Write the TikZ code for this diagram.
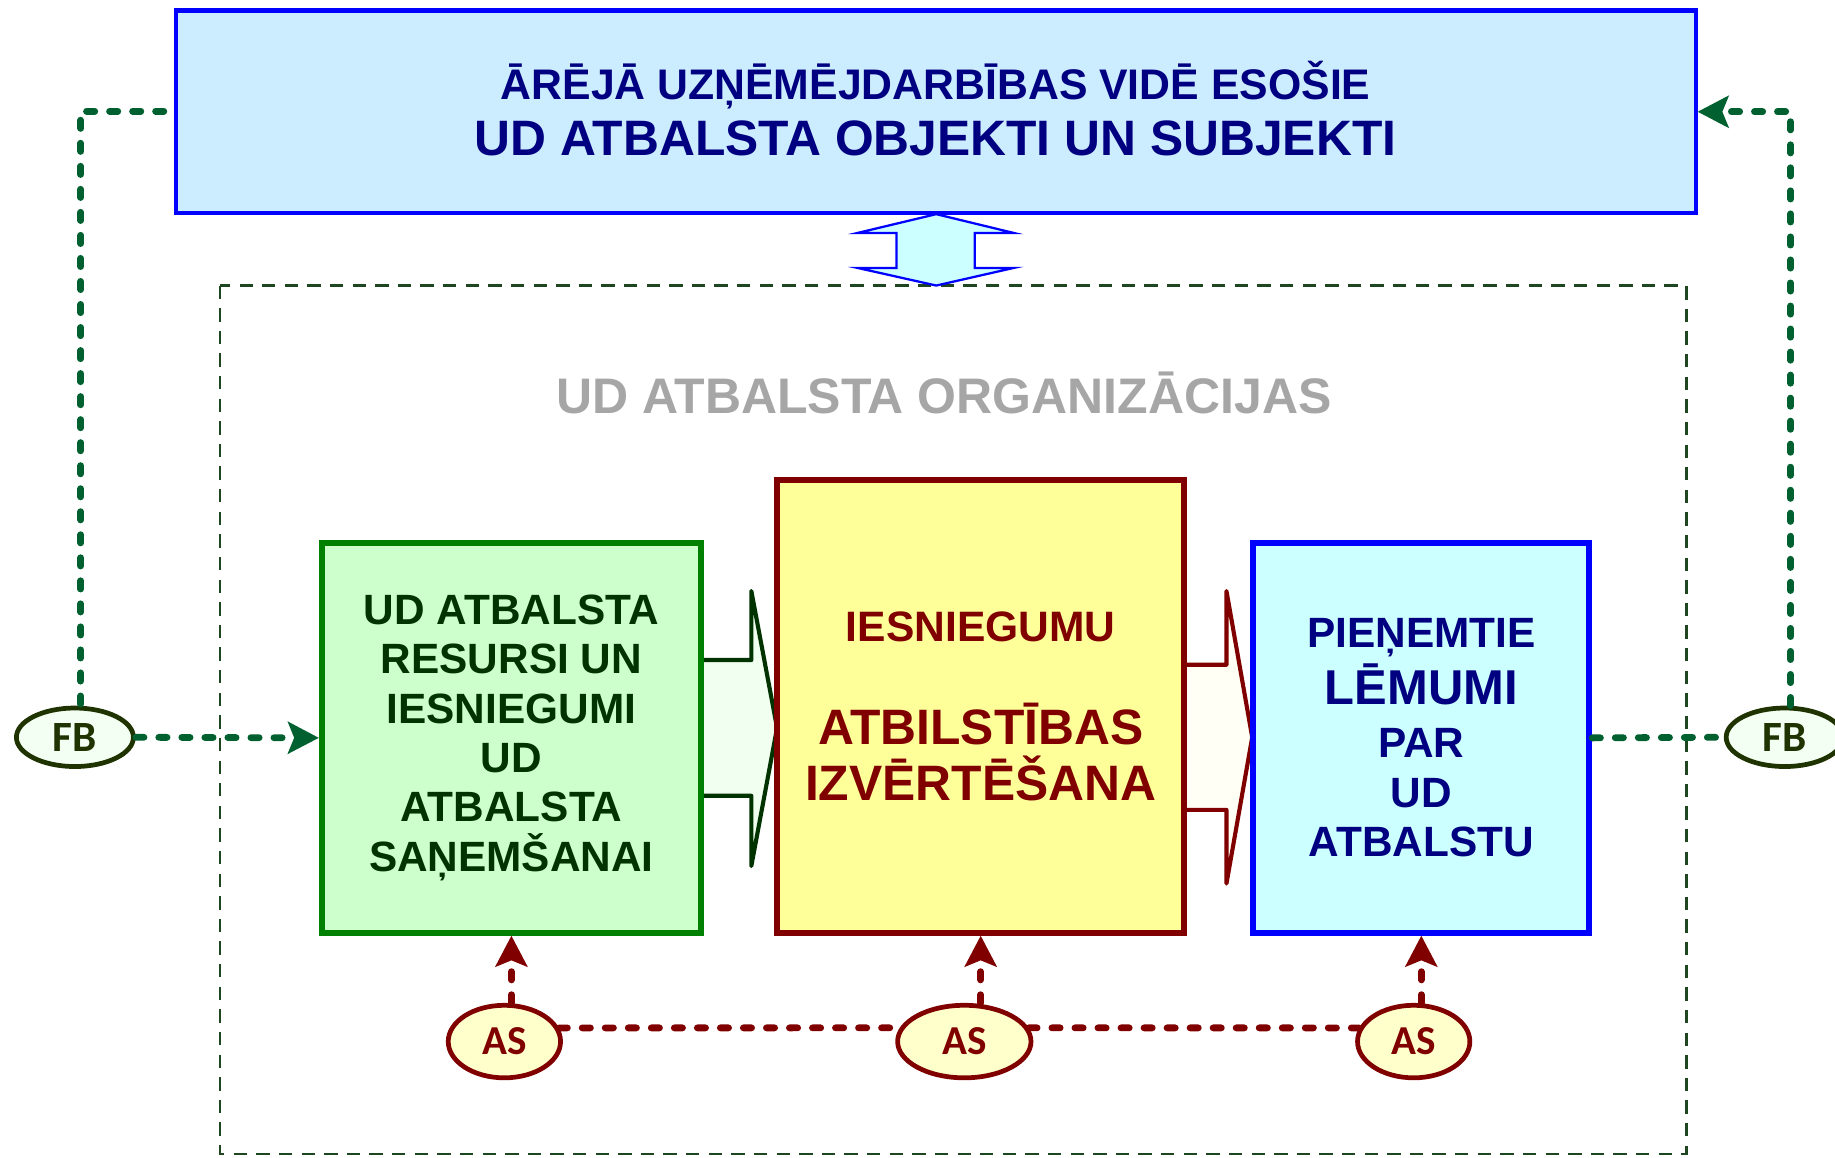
\documentclass[tikz,border=0pt]{standalone}
\usepackage{fontspec}
\setmainfont{Liberation Sans}
\newfontfamily\ellfont{Carlito}
\usetikzlibrary{arrows.meta, shapes.geometric}

\definecolor{topfill}{HTML}{CCECFF}
\definecolor{navy}{HTML}{000080}
\definecolor{boxblue}{HTML}{0000FF}
\definecolor{resfill}{HTML}{CCFFCC}
\definecolor{resgreen}{HTML}{008000}
\definecolor{restext}{HTML}{003300}
\definecolor{evalfill}{HTML}{FFFF99}
\definecolor{darkred}{HTML}{800000}
\definecolor{decfill}{HTML}{CCFFFF}
\definecolor{fbgreen}{HTML}{006030}
\definecolor{fbdark}{HTML}{1F3300}
\definecolor{fbfill}{HTML}{F2FFF2}
\definecolor{asfill}{HTML}{FFFFCC}
\definecolor{orggray}{HTML}{A6A6A6}
\definecolor{framegreen}{HTML}{1E4620}
\definecolor{arrowgreen}{HTML}{F0FFF0}
\definecolor{arrowivory}{HTML}{FFFFF5}

\tikzset{
  block/.style={rectangle, line width=2.9pt, inner sep=0pt, align=center},
  fbnode/.style={ellipse, draw=fbdark, fill=fbfill, line width=2.3pt, minimum width=2cm, minimum height=1cm, inner sep=0pt, text=fbdark, font=\ellfont\bfseries\fontsize{21}{21}\selectfont},
  asnode/.style={ellipse, draw=darkred, fill=asfill, line width=2.3pt, minimum width=1.92cm, minimum height=1.24cm, inner sep=0pt, text=darkred, font=\ellfont\bfseries\fontsize{20}{20}\selectfont},
  fbline/.style={draw=fbgreen, line width=3.3pt, line cap=round, dash pattern=on 4pt off 7.2pt},
  asline/.style={draw=darkred, line width=3.3pt, line cap=round, dash pattern=on 4pt off 7.2pt},
  headtip/.style={-{Stealth[length=15pt, width=15.4pt, inset=3pt]}},
}

\begin{document}
\begin{tikzpicture}[x=0.02cm, y=-0.02cm]
\useasboundingbox (0,0) rectangle (1568,988.7);
% organisations frame
\draw[framegreen, line width=1.1pt, dash pattern=on 6.5pt off 4.5pt] (188,244) rectangle (1441,986);
\node[text=orggray, font=\bfseries\fontsize{24.3}{24}\selectfont] (org) at (806.5,336) {UD ATBALSTA ORGANIZĀCIJAS};

% outer environment
\node[block, draw=boxblue, line width=2pt, fill=topfill, minimum width=25.98cm, minimum height=3.46cm, text depth=3.5pt, text=navy, font=\bfseries\fontsize{20.8}{27.5}\selectfont] (outer) at (799.5,95.5) {ĀRĒJĀ UZŅĒMĒJDARBĪBAS VIDĒ ESOŠIE\\{\fontsize{24.2}{27.5}\selectfont UD ATBALSTA OBJEKTI UN SUBJEKTI}};
\draw[boxblue, line width=1.1pt, fill=decfill] (800,183) -- (866,199) -- (833,199) -- (833,229) -- (866,229) -- (800,244) -- (733,229) -- (766,229) -- (766,199) -- (733,199) -- cycle;

% block arrows
\draw[restext, fill=arrowgreen, line width=2pt, line join=round] (599,564) -- (642,564) -- (642,505) -- (664,622) -- (642,740) -- (642,680) -- (599,680);
\draw[darkred, fill=arrowivory, line width=2pt, line join=round] (1012,568) -- (1048,568) -- (1048,505) -- (1070,630) -- (1048,755) -- (1048,692) -- (1012,692);

% main boxes
\node[block, draw=resgreen, fill=resfill, minimum width=6.48cm, minimum height=6.66cm, text=restext, font=\bfseries\fontsize{20.6}{24}\selectfont] (green) at (437,630.5) {UD ATBALSTA\\RESURSI UN\\IESNIEGUMI\\UD\\ATBALSTA\\SAŅEMŠANAI};
\node[block, draw=darkred, fill=evalfill, minimum width=6.96cm, minimum height=7.74cm, text=darkred, font=\bfseries\fontsize{24.2}{27.3}\selectfont] (yellow) at (838,603.5) {{\fontsize{20.7}{27.3}\selectfont IESNIEGUMU}\\[22.7pt]ATBILSTĪBAS\\IZVĒRTĒŠANA};
\node[block, draw=boxblue, fill=decfill, minimum width=5.74cm, minimum height=6.66cm, text=navy, font=\bfseries\fontsize{20.6}{24}\selectfont] (blue) at (1214.5,630.5) {PIEŅEMTIE\\[2.2pt]{\fontsize{23.8}{24}\selectfont LĒMUMI}\\[1.6pt]PAR\\[0.5pt]UD\\ATBALSTU};

% feedback
\node[fbnode] (fbl) at (64,630) {FB};
\node[fbnode] (fbr) at (1525,630) {FB};
\coordinate (fbtop) at (140,95);
\draw[fbline] (fbtop) -| ([xshift=0.1cm]fbl.north);
\draw[fbline, headtip] (fbl.east) -- (green.west);
\draw[fbline] (blue.east) -- (fbr.west);
\draw[fbline, headtip] ([xshift=0.1cm]fbr.north) |- (outer.east);

% support
\node[asnode] (as1) at (431,890) {AS};
\node[asnode, minimum width=2.28cm] (as2) at (824,890) {AS};
\node[asnode] (as3) at (1208,890) {AS};
\draw[asline] (as1.14) -- (as2.168);
\draw[asline] (as2.12) -- (as3.166);
\draw[asline, headtip] (green.south |- as1.north) -- (green.south);
\draw[asline, headtip] (yellow.south |- as2.north) -- (yellow.south);
\draw[asline, headtip] (blue.south |- as3.north) -- (blue.south);
\end{tikzpicture}
\end{document}
